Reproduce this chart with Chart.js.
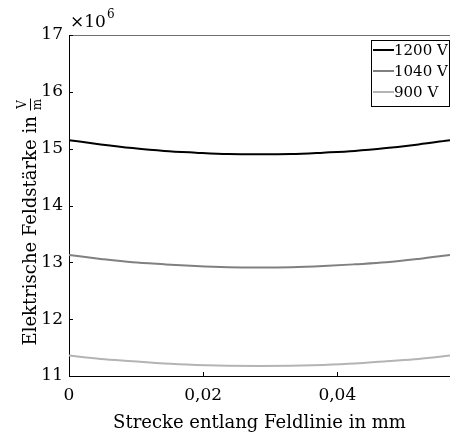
<!DOCTYPE html>
<html lang="de">
<head>
<meta charset="UTF-8">
<title>Feldstärke</title>
<script src="https://cdn.jsdelivr.net/npm/chart.js"></script>
<style>
  body { margin: 0; background: #fff; }
  #wrap { width: 450px; height: 433px; }
</style>
</head>
<body>
<div id="wrap"><canvas id="grafico" width="450" height="433"></canvas></div>
<script>
// Strecke in mm
const strecke = [0, 0.00473, 0.00947, 0.0142, 0.0189, 0.0237, 0.0284, 0.0331, 0.0379, 0.0426, 0.0473, 0.0521, 0.0568];
// Feldstärke in 1e6 V/m
const feld1200 = [15.15, 15.075, 15.01, 14.96, 14.93, 14.905, 14.90, 14.905, 14.93, 14.96, 15.01, 15.075, 15.15];
const feld1040 = [13.13, 13.06, 13.00, 12.965, 12.935, 12.915, 12.91, 12.915, 12.935, 12.965, 13.00, 13.06, 13.13];
const feld900 = [11.36, 11.30, 11.26, 11.22, 11.195, 11.18, 11.175, 11.18, 11.195, 11.22, 11.26, 11.30, 11.36];
const labels = ['1200 V', '1040 V', '900 V'];
const cores = ['#000000', '#808080', '#b4b4b4'];
const yTicks = [11, 12, 13, 14, 15, 16, 17];
const xTicks = [0, 0.02, 0.04];

const fonte = '"DejaVu Serif", "Liberation Serif", serif';

function pontos(ys) {
    return strecke.map((x, i) => ({ x: x, y: ys[i] }));
}

const extras = {
    id: 'extras',
    afterDraw(chart) {
        const ctx = chart.ctx;
        const a = chart.chartArea;
        const xs = chart.scales.x;
        const ys = chart.scales.y;
        ctx.save();
        // linha de cima
        ctx.strokeStyle = '#707070';
        ctx.lineWidth = 1;
        ctx.beginPath();
        ctx.moveTo(a.left, a.top + 0.5);
        ctx.lineTo(a.right, a.top + 0.5);
        ctx.stroke();
        // ticks para dentro
        ctx.strokeStyle = '#000';
        ctx.beginPath();
        yTicks.forEach(v => {
            const p = Math.round(ys.getPixelForValue(v)) + 0.5;
            ctx.moveTo(a.left, p);
            ctx.lineTo(a.left + 4, p);
        });
        xTicks.forEach(v => {
            const p = Math.round(xs.getPixelForValue(v)) + 0.5;
            ctx.moveTo(p, a.bottom);
            ctx.lineTo(p, a.bottom - 4);
        });
        ctx.stroke();

        // x10^6
        ctx.fillStyle = '#000';
        ctx.textBaseline = 'alphabetic';
        ctx.textAlign = 'left';
        ctx.font = '17px ' + fonte;
        ctx.fillText('\u00d710', a.left + 1, 27);
        const w = ctx.measureText('\u00d710').width;
        ctx.font = '12px ' + fonte;
        ctx.fillText('6', a.left + 1 + w + 1, 18);

        // titulo x
        ctx.font = '18px ' + fonte;
        ctx.textAlign = 'center';
        ctx.fillText('Strecke entlang Feldlinie in mm', (a.left + a.right) / 2, 428);

        // titulo y com fracao
        ctx.translate(30, 222);
        ctx.rotate(-Math.PI / 2);
        ctx.font = '18px ' + fonte;
        ctx.textBaseline = 'middle';
        const txt = 'Elektrische Feldst\u00e4rke in ';
        const tw = ctx.measureText(txt).width;
        const total = tw + 12;
        ctx.textAlign = 'left';
        ctx.fillText(txt, -total / 2, 1);
        const fx = -total / 2 + tw + 6;
        ctx.font = '12px ' + fonte;
        ctx.textAlign = 'center';
        ctx.fillText('V', fx, -7);
        ctx.fillText('m', fx, 8);
        ctx.beginPath();
        ctx.lineWidth = 1;
        ctx.moveTo(fx - 6, 0.5);
        ctx.lineTo(fx + 6, 0.5);
        ctx.stroke();
        ctx.restore();

        // legenda
        ctx.save();
        const lx = 371, ly = 40, lw = 79, lh = 67;
        ctx.fillStyle = '#fff';
        ctx.fillRect(lx, ly, lw, lh);
        ctx.strokeStyle = '#000';
        ctx.lineWidth = 1;
        ctx.strokeRect(lx + 0.5, ly + 0.5, lw - 1, lh - 1);
        ctx.font = '15px ' + fonte;
        ctx.textBaseline = 'middle';
        ctx.textAlign = 'left';
        chart.data.datasets.forEach((ds, i) => {
            const yy = ly + 10 + i * 21;
            ctx.strokeStyle = ds.borderColor;
            ctx.lineWidth = 2;
            ctx.beginPath();
            ctx.moveTo(lx + 2, yy);
            ctx.lineTo(lx + 23, yy);
            ctx.stroke();
            ctx.fillStyle = '#000';
            ctx.fillText(ds.label, lx + 23, yy + 1);
        });
        ctx.restore();
    }
};

const ctx = document.getElementById('grafico').getContext('2d');
new Chart(ctx, {
    type: 'line',
    data: {
        datasets: [
            { label: labels[0], data: pontos(feld1200), borderColor: cores[0] },
            { label: labels[1], data: pontos(feld1040), borderColor: cores[1] },
            { label: labels[2], data: pontos(feld900), borderColor: cores[2] }
        ].map(d => Object.assign(d, { borderWidth: 2, pointRadius: 0, tension: 0.4, cubicInterpolationMode: 'monotone', fill: false }))
    },
    options: {
        responsive: false,
        animation: false,
        layout: { padding: { top: 35, right: 0, left: 0, bottom: 0 } },
        plugins: { legend: { display: false }, tooltip: { enabled: false } },
        scales: {
            x: {
                type: 'linear',
                min: 0,
                max: 0.0568,
                afterFit(s) { s.height = 57; },
                afterBuildTicks(s) { s.ticks = xTicks.map(v => ({ value: v })); },
                ticks: {
                    color: '#000',
                    padding: 9,
                    font: { family: fonte, size: 17 },
                    callback: v => v === 0 ? '0' : v.toFixed(2).replace('.', ',')
                },
                grid: { drawOnChartArea: false, drawTicks: false },
                border: { color: '#000', width: 1 }
            },
            y: {
                min: 11,
                max: 17,
                afterFit(s) { s.width = 69; },
                afterBuildTicks(s) { s.ticks = yTicks.map(v => ({ value: v })); },
                ticks: {
                    color: '#000',
                    padding: 6,
                    font: { family: fonte, size: 17 }
                },
                grid: { drawOnChartArea: false, drawTicks: false },
                border: { color: '#000', width: 1 }
            }
        }
    },
    plugins: [extras]
});
</script>
</body>
</html>
